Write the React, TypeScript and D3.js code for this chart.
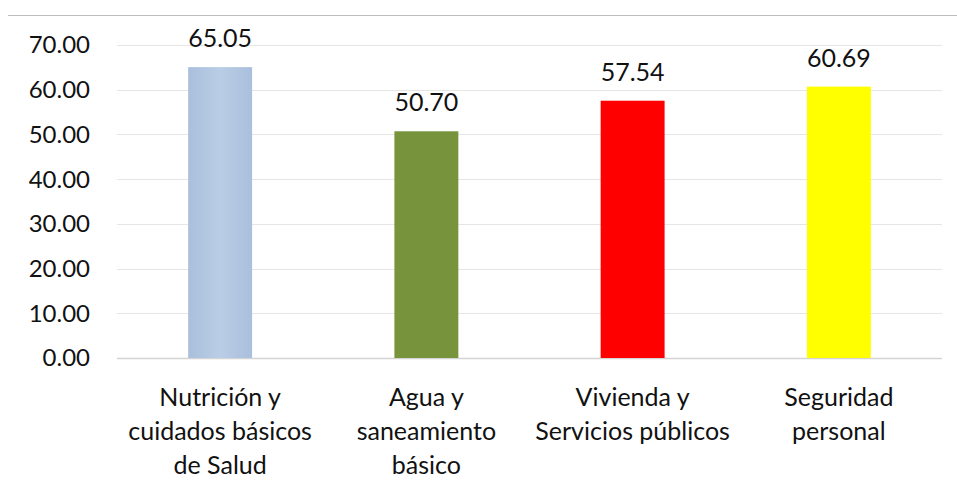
import React from "react";
import * as d3 from "d3";

const categories: string[][] = [
  ["Nutrición y", "cuidados básicos", "de Salud"],
  ["Agua y", "saneamiento", "básico"],
  ["Vivienda y", "Servicios públicos"],
  ["Seguridad", "personal"],
];
const values: number[] = [65.05, 50.7, 57.54, 60.69];
const colors: string[] = ["#b3c7e1", "#77933c", "#ff0000", "#ffff00"];
const yTicks: number[] = [0, 10, 20, 30, 40, 50, 60, 70];

const W = 957;
const H = 490;
const FONT = "Lato, 'Open Sans', sans-serif";

export default function App() {
  const x = d3
    .scaleBand<number>()
    .domain(d3.range(values.length))
    .range([117, 942])
    .paddingInner(0.69)
    .paddingOuter(0.345);
  const y = d3.scaleLinear().domain([0, 70]).range([358, 45]);
  const bw = x.bandwidth();

  return (
    <div style={{ position: "absolute", left: 0, top: 0, width: W, height: H, background: "#fff" }}>
      <svg width={W} height={H} style={{ display: "block" }}>
        <defs>
          <linearGradient id="g0" x1="0" x2="1" y1="0" y2="0">
            <stop offset="0" stopColor="#a9bfdc" />
            <stop offset="0.5" stopColor="#bacde6" />
            <stop offset="1" stopColor="#a9bfdc" />
          </linearGradient>
        </defs>
        <rect x={0} y={0} width={W} height={H} fill="#fff" />
        <line x1={8} x2={W} y1={15.5} y2={15.5} stroke="#bdbdbd" strokeWidth={1} />
        {yTicks.map((t) => (
          <g key={t}>
            {t > 0 && (
              <line x1={117} x2={942} y1={Math.round(y(t)) + 0.5} y2={Math.round(y(t)) + 0.5} stroke="#e6e6e6" strokeWidth={1} />
            )}
            <text
              x={90}
              y={y(t)}
              dy="0.35em"
              textAnchor="end"
              fontFamily={FONT}
              fontSize={24}
              fill="#111"
            >
              {t.toFixed(2)}
            </text>
          </g>
        ))}
        <line x1={117} x2={942} y1={358.5} y2={358.5} stroke="#d4d4d4" strokeWidth={1.5} />
        {values.map((v, i) => {
          const bx = x(i)!;
          const by = y(v);
          return (
            <g key={i}>
              <rect
                x={bx}
                y={by}
                width={bw}
                height={y(0) - by}
                fill={i === 0 ? "url(#g0)" : colors[i]}
              />
              <text
                x={bx + bw / 2}
                y={by - 20}
                textAnchor="middle"
                fontFamily={FONT}
                fontSize={25}
                fill="#111"
              >
                {v.toFixed(2)}
              </text>
              {categories[i].map((line, j) => (
                <text
                  key={j}
                  x={bx + bw / 2}
                  y={397 + j * 34}
                  dy="0.35em"
                  textAnchor="middle"
                  fontFamily={FONT}
                  fontSize={25}
                  fill="#111"
                >
                  {line}
                </text>
              ))}
            </g>
          );
        })}
      </svg>
    </div>
  );
}
